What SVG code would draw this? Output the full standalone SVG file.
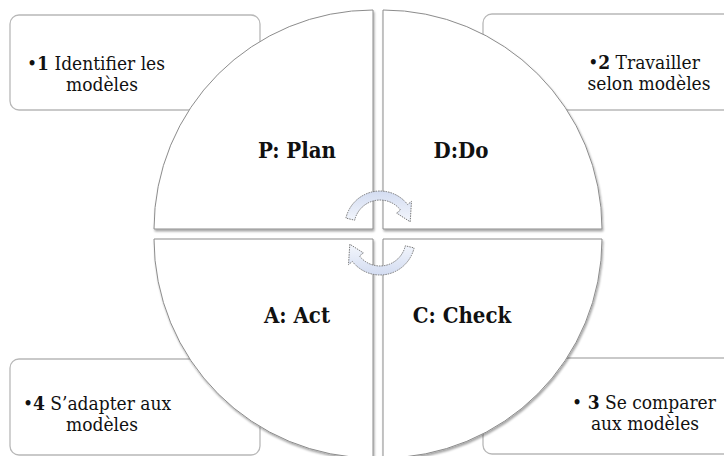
<svg xmlns="http://www.w3.org/2000/svg" width="724" height="456" viewBox="0 0 724 456">
  <style>
    .box { fill: #ffffff; stroke: #b8b8b8; stroke-width: 1.3; }
    .quad { fill: #ffffff; stroke: #8c8c8c; stroke-width: 1; filter: url(#shadow); }
    .txt { font-size: 19px; fill: #111; text-anchor: middle; }
    .lbl { font-size: 22px; font-weight: bold; fill: #111; text-anchor: middle; }
    .b { font-weight: bold; }
    .arrow { fill: url(#arrowFill); stroke: #6a6a6a; stroke-width: 0.9; stroke-dasharray: 1.5 1; }
  </style>
  <defs>
    <filter id="shadow" x="-10%" y="-10%" width="125%" height="125%">
      <feDropShadow dx="1" dy="2" stdDeviation="1.3" flood-color="#000" flood-opacity="0.35"/>
    </filter>
    <linearGradient id="arrowFill" x1="0" y1="0" x2="0" y2="1">
      <stop offset="0" stop-color="#d3dcf1"/>
      <stop offset="1" stop-color="#f3f6fc"/>
    </linearGradient>
  </defs>

  <rect width="724" height="456" fill="#ffffff"/>

  <!-- text boxes behind the circle -->
  <g id="box-1">
    <rect class="box" x="10" y="15" width="250" height="95" rx="9"/>
    <text class="txt" font-family="DejaVu Serif, serif" font-stretch="condensed"><tspan x="96" y="70">•<tspan class="b">1</tspan> Identifier les</tspan><tspan x="102" y="91">modèles</tspan></text>
  </g>
  <g id="box-2">
    <rect class="box" x="483" y="14" width="260" height="96" rx="9"/>
    <text class="txt" font-family="DejaVu Serif, serif" font-stretch="condensed"><tspan x="644" y="69">•<tspan class="b">2</tspan> Travailler</tspan><tspan x="649" y="90">selon modèles</tspan></text>
  </g>
  <g id="box-3">
    <rect class="box" x="483" y="358" width="260" height="96" rx="9"/>
    <text class="txt" font-family="DejaVu Serif, serif" font-stretch="condensed"><tspan x="644" y="409">• <tspan class="b">3</tspan> Se comparer</tspan><tspan x="645" y="430">aux modèles</tspan></text>
  </g>
  <g id="box-4">
    <rect class="box" x="10" y="359" width="250" height="96" rx="9"/>
    <text class="txt" font-family="DejaVu Serif, serif" font-stretch="condensed"><tspan x="97" y="410">•<tspan class="b">4</tspan> S’adapter aux</tspan><tspan x="102" y="431">modèles</tspan></text>
  </g>

  <!-- four quadrants of the PDCA wheel -->
  <g id="plan">
    <path class="quad" d="M373 229 L154 229 A219 219 0 0 1 373 10 Z"/>
    <text class="lbl" font-family="DejaVu Serif, serif" font-stretch="condensed" x="297" y="158">P: Plan</text>
  </g>
  <g id="do">
    <path class="quad" d="M383 229 L383 10 A219 219 0 0 1 602 229 Z"/>
    <text class="lbl" font-family="DejaVu Serif, serif" font-stretch="condensed" x="461" y="158">D:Do</text>
  </g>
  <g id="act">
    <path class="quad" d="M373 239 L373 458 A219 219 0 0 1 154 239 Z"/>
    <text class="lbl" font-family="DejaVu Serif, serif" font-stretch="condensed" x="297" y="323">A: Act</text>
  </g>
  <g id="check">
    <path class="quad" d="M383 239 L602 239 A219 219 0 0 1 383 458 Z"/>
    <text class="lbl" font-family="DejaVu Serif, serif" font-stretch="condensed" x="462" y="323">C: Check</text>
  </g>

  <!-- circular arrows in the centre -->
  <g id="connectors">
    <path id="arrow-top" class="arrow" d="M345.9 218.1 A35 35 0 0 1 407.6 204.5 L411.5 201.4 L410.2 221.8 L396.6 213.1 L400.5 210.0 A26 26 0 0 0 354.7 220.2 Z"/>
    <path id="arrow-bottom" class="arrow" transform="rotate(180 380 233)" d="M345.9 218.1 A35 35 0 0 1 407.6 204.5 L411.5 201.4 L410.2 221.8 L396.6 213.1 L400.5 210.0 A26 26 0 0 0 354.7 220.2 Z"/>
  </g>
</svg>
